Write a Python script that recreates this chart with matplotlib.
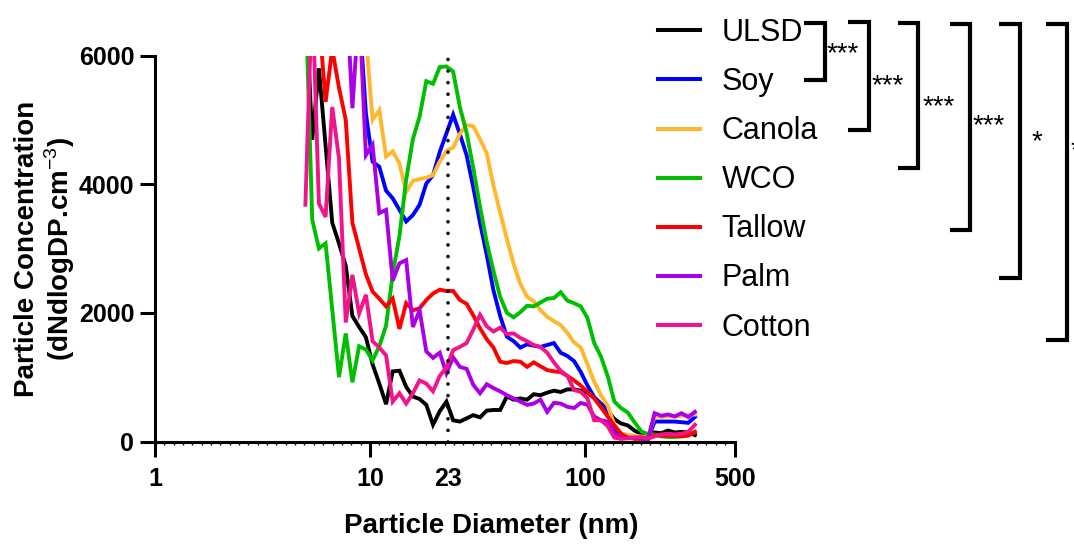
import numpy as np
import matplotlib
matplotlib.use('Agg')
import matplotlib.pyplot as plt
from matplotlib.lines import Line2D
from matplotlib.ticker import FixedLocator, NullFormatter

plt.rcParams['font.family'] = ['Liberation Sans', 'DejaVu Sans']
plt.rcParams['mathtext.fontset'] = 'custom'
plt.rcParams['mathtext.rm'] = 'Liberation Sans'
plt.rcParams['mathtext.bf'] = 'Liberation Sans:bold'

# ---------------- data ----------------
diameter_nm = [5.01, 5.39, 5.79, 6.22, 6.68, 7.18, 7.72, 8.29, 8.91, 9.58,
               10.29, 11.06, 11.89, 12.77, 13.73, 14.75, 15.85, 17.03, 18.30, 19.67,
               21.13, 22.71, 24.40, 26.22, 28.18, 30.28, 32.54, 34.97, 37.58, 40.38,
               43.39, 46.63, 50.12, 53.86, 57.87, 62.19, 66.83, 71.82, 77.18, 82.93,
               89.13, 95.77, 102.9, 110.6, 118.9, 127.7, 137.3, 147.5, 158.5, 170.3,
               183.0, 196.7, 211.3, 227.1, 244.0, 262.2, 281.8, 302.8, 325.4]

ulsd = [7000, 4690, 5800, 4600, 3400, 3080, 2730, 1950, 1780, 1620,
        1200, 900, 580, 1090, 1100, 850, 700, 660, 570, 260,
        470, 620, 330, 310, 360, 410, 375, 480, 490, 490,
        700, 650, 670, 650, 735, 720, 760, 790, 770, 810,
        810, 790, 760, 680, 590, 480, 350, 280, 250, 170,
        120, 120, 140, 130, 170, 140, 150, 140, 100]

soy = [9500, 9800, 10200, 9900, 9400, 8800, 8200, 7500, 6700, 5100,
       4350, 4270, 3900, 3780, 3600, 3420, 3520, 3680, 4010, 4140,
       4500, 4790, 5080, 4780, 4450, 3950, 3400, 2900, 2350, 1950,
       1630, 1560, 1460, 1510, 1490, 1470, 1500, 1530, 1380, 1330,
       1250, 1080, 870, 690, 580, 460, 210, 100, 60, 60,
       50, 40, 310, 310, 310, 310, 300, 290, 380]

canola = [10500, 10800, 11000, 10600, 10200, 9600, 9000, 8300, 7500, 6300,
          5000, 5150, 4430, 4510, 4320, 3880, 4050, 4080, 4100, 4140,
          4350, 4520, 4570, 4780, 4920, 4900, 4700, 4480, 3980, 3560,
          3150, 2760, 2450, 2250, 2180, 2040, 1940, 1870, 1810, 1690,
          1540, 1460, 1200, 930, 720, 560, 260, 130, 100, 90,
          80, 70, 390, 380, 390, 390, 400, 410, 420]

wco = [7000, 3450, 3000, 3080, 2050, 1000, 1680, 920, 1480, 1430,
       1260, 1480, 1800, 2600, 3200, 4070, 4700, 5050, 5600, 5560,
       5820, 5830, 5750, 5200, 4800, 4250, 3650, 3100, 2650, 2250,
       2000, 1930, 2010, 2110, 2100, 2160, 2220, 2230, 2320, 2190,
       2150, 2100, 1920, 1530, 1320, 1020, 620, 520, 450, 300,
       160, 110, 110, 80, 70, 70, 80, 120, 140]

tallow = [8500, 7500, 6600, 5280, 6100, 5500, 5000, 3400, 3000, 2600,
          2330, 2220, 2100, 2220, 1750, 2150, 2040, 2070, 2200, 2300,
          2360, 2340, 2340, 2200, 2140, 1960, 1760, 1590, 1460, 1240,
          1220, 1250, 1240, 1160, 1230, 1170, 1110, 1090, 1080, 1020,
          950, 870, 770, 670, 530, 390, 250, 120, 60, 40,
          40, 40, 100, 90, 90, 90, 80, 90, 150]

palm = [11000, 11500, 11000, 10500, 9500, 8500, 7200, 5180, 6800, 4450,
        4610, 3550, 3600, 2500, 2770, 2820, 1780, 2040, 1400, 1300,
        1380, 1060, 1310, 1160, 1130, 880, 750, 890, 830, 780,
        720, 670, 620, 570, 590, 650, 460, 600, 590, 540,
        520, 600, 570, 390, 330, 310, 130, 50, 60, 60,
        50, 30, 440, 400, 420, 390, 440, 380, 460]

cotton = [3680, 7000, 3700, 3490, 5200, 4400, 1850, 2590, 1990, 2280,
          1560, 1460, 1340, 620, 750, 590, 750, 950, 900, 780,
          1020, 1150, 1420, 1470, 1530, 1740, 1970, 1790, 1710, 1770,
          1670, 1680, 1610, 1560, 1500, 1470, 1380, 1230, 1100, 1020,
          800, 770, 670, 330, 330, 240, 60, 40, 50, 60,
          70, 50, 80, 110, 120, 110, 120, 150, 260]

series_names = ['ULSD', 'Soy', 'Canola', 'WCO', 'Tallow', 'Palm', 'Cotton']
series_values = [ulsd, soy, canola, wco, tallow, palm, cotton]
series_colors = ['#000000', '#0000FF', '#FFB82E', '#00BE00', '#FF0000', '#AA00E6', '#F2148A']

x_tick_values = [1, 10, 23, 100, 500]
x_tick_labels = ['1', '10', '23', '100', '500']
y_tick_values = [0, 2000, 4000, 6000]
y_tick_labels = ['0', '2000', '4000', '6000']
reference_diameter = 23
significance_labels = ['***', '***', '***', '***', '*', '*']

# ---------------- figure ----------------
W, H = 1074, 544
fig = plt.figure(figsize=(W / 100, H / 100), dpi=100)

def fx(px):
    return px / W

def fy(py):
    return 1 - py / H

ax = fig.add_axes([fx(155), fy(441.5), (735 - 155) / W, (441.5 - 55.5) / H])

for name, vals, col in zip(series_names, series_values, series_colors):
    ax.plot(diameter_nm, vals, color=col, lw=2.8, label=name, solid_joinstyle='miter')

ax.axvline(reference_diameter, ymin=0, ymax=1, color='black', lw=2.6,
           linestyle=(0, (0.01, 3.2)), dash_capstyle='round', zorder=5)

ax.set_xscale('log')
ax.set_xlim(1, 500)
ax.set_ylim(0, 6000)

ax.xaxis.set_major_locator(FixedLocator(x_tick_values))
ax.set_xticklabels(x_tick_labels, fontsize=18, fontweight='bold')
minor_pos = [v for v in 10 ** (np.arange(1, 62) / 23.0) if v < 500 and v not in x_tick_values]
ax.xaxis.set_minor_locator(FixedLocator(minor_pos))
ax.xaxis.set_minor_formatter(NullFormatter())
ax.set_yticks(y_tick_values)
ax.set_yticklabels(y_tick_labels, fontsize=18, fontweight='bold')

ax.tick_params(axis='both', which='major', direction='out', length=11, width=2.2, color='black')
ax.tick_params(axis='x', which='major', pad=7)
ax.tick_params(axis='y', which='major', pad=4)
ax.tick_params(axis='x', which='minor', direction='out', length=2.5, width=1.0)
ax.tick_params(axis='y', which='minor', left=False)
ax.xaxis.get_major_ticks()[2].tick1line.set_visible(False)

for s in ['top', 'right']:
    ax.spines[s].set_visible(False)
for s in ['left', 'bottom']:
    ax.spines[s].set_linewidth(2.2)

ax.set_xlabel('Particle Diameter (nm)', fontsize=20, fontweight='bold')
ax.xaxis.set_label_coords((491 - 155) / 580, (441.5 - 513) / 386)
ax.set_ylabel('Particle Concentration\n(dNdlogDP.cm$^{-3}$)', fontsize=20,
              fontweight='bold', linespacing=1.1)
ax.yaxis.set_label_coords((77 - 155) / 580, 0.5)

leg = ax.legend(loc='upper left', bbox_to_anchor=(fx(658), fy(18)),
                bbox_transform=fig.transFigure, frameon=False, fontsize=22,
                handlelength=1.37, handletextpad=0.72, labelspacing=0.625,
                borderpad=0, borderaxespad=0)
for ln in leg.get_lines():
    ln.set_linewidth(2.9)

# significance brackets (pixel layout)
bracket_x = [(804, 825), (848, 869), (898, 918), (950, 970), (999, 1020), (1046, 1067)]
bracket_y = [(22.7, 80), (21.7, 130), (22.7, 168), (24, 230), (24, 278), (24, 340)]
label_pos = [(827, 45), (872, 77), (923, 98), (973, 117), (1032, 133), (1071, 142)]
for (x0, x1), (y0, y1), lab, (lx, ly) in zip(bracket_x, bracket_y, significance_labels, label_pos):
    fig.add_artist(Line2D([fx(x0), fx(x1), fx(x1), fx(x0)],
                          [fy(y0), fy(y0), fy(y1), fy(y1)],
                          transform=fig.transFigure, color='black', lw=3.0,
                          solid_joinstyle='miter', solid_capstyle='butt'))
    fig.text(fx(lx), fy(ly + 16), lab, fontsize=20, ha='left', va='baseline')

fig.savefig('out.png', dpi=100)
